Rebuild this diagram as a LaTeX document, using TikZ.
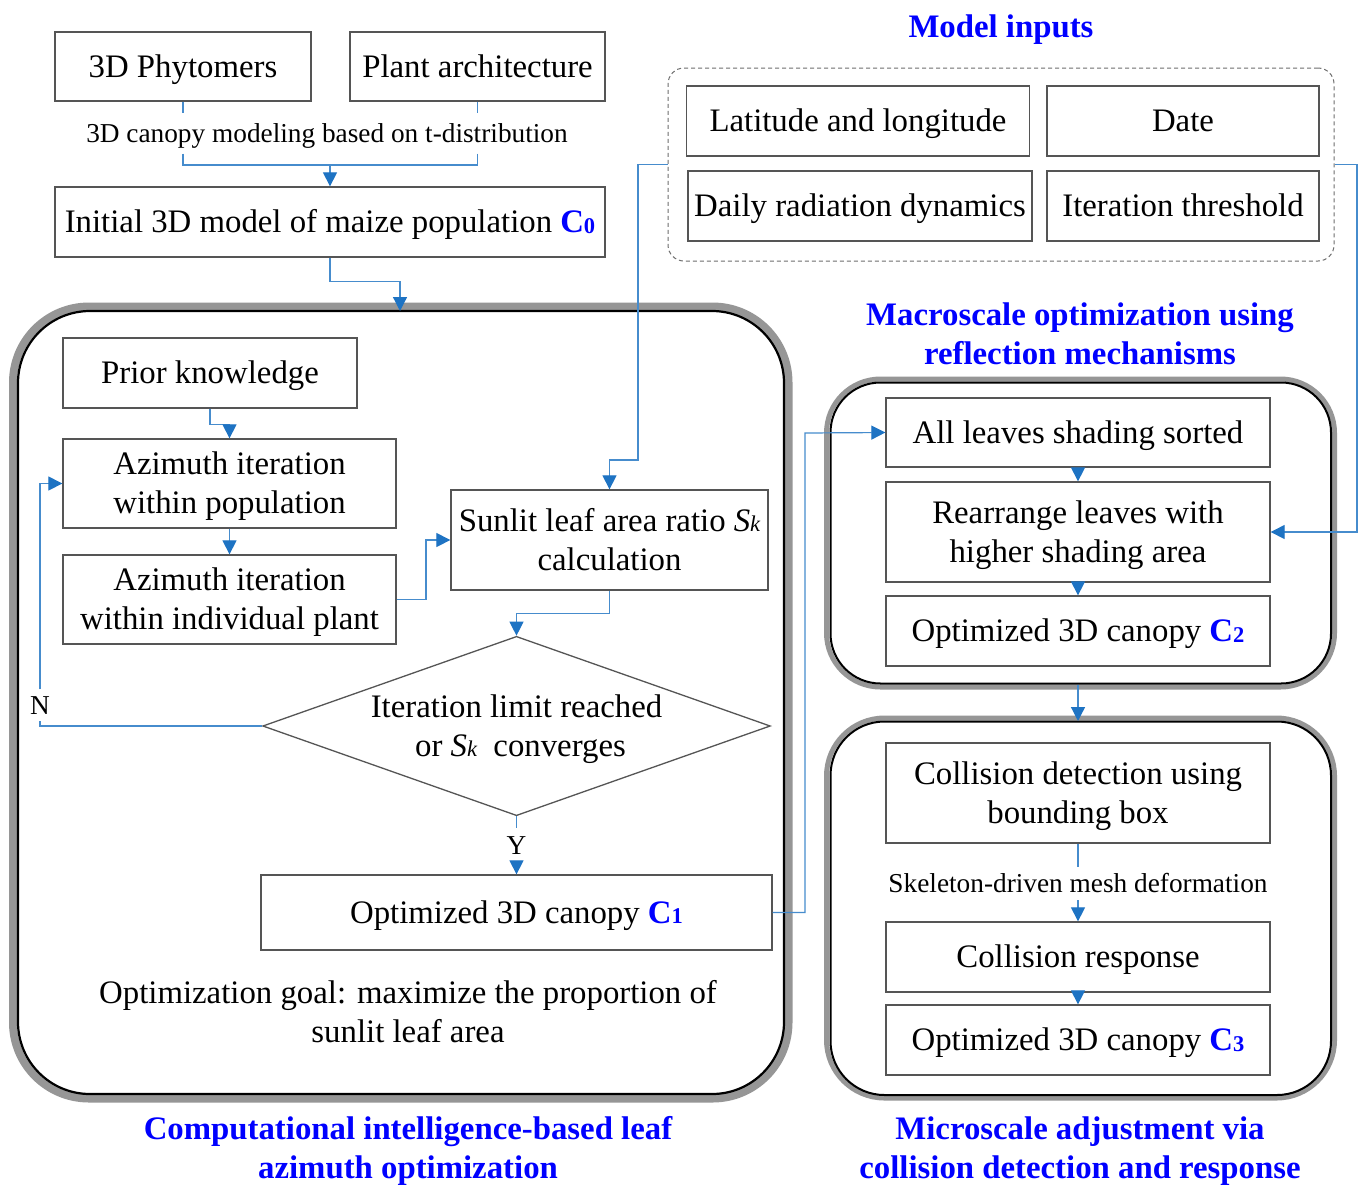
\documentclass[tikz,border=0pt]{standalone}
\usepackage{fontspec}
\setmainfont{Liberation Serif}
\usetikzlibrary{arrows.meta,shapes.geometric}
\definecolor{boxc}{RGB}{85,85,85}
\definecolor{linec}{RGB}{70,140,205}
\definecolor{tipc}{RGB}{30,115,195}
\definecolor{framegray}{RGB}{150,150,150}
\definecolor{dashc}{RGB}{110,110,110}
\definecolor{ttl}{RGB}{0,0,255}
\newcommand{\Csub}[1]{{\color{ttl}\bfseries C\raisebox{-0.5pt}{\fontsize{22.5}{22.5}\selectfont #1}}}
\newcommand{\Sk}{\textit{S}{\fontsize{22.5}{22.5}\selectfont\itshape k}}
\begin{document}
\begin{tikzpicture}[x=1pt,y=-1pt,
 bx/.style={draw=boxc, line width=1.3pt, align=center, inner sep=0pt, font=\fontsize{32.8}{39}\selectfont},
 one/.style={text height=29.5pt, text depth=7.9pt},
 two/.style={text height=68.5pt, text depth=7.9pt},
 conn/.style={draw=linec, line width=1.2pt},
 arr/.style={conn, -{Triangle[width=14pt,length=14pt,color=tipc]}},
 lbl/.style={font=\fontsize{27.3}{32}\selectfont, inner xsep=2pt, text height=23.5pt, text depth=5.5pt},
 ttlf/.style={font=\fontsize{32.8}{39}\selectfont\bfseries, text=ttl, align=center},
 plain/.style={font=\fontsize{32.8}{39}\selectfont, align=center}]
\useasboundingbox[fill=white] (0,0) rectangle (1362,1184);

% frames
\draw[framegray, line width=8pt, rounded corners=76pt] (13,306.5) rectangle (788.5,1098.5);
\draw[black, line width=2.2pt, rounded corners=72pt] (18,311) rectangle (784,1094);
\draw[framegray, line width=5pt, rounded corners=54pt] (826.5,379) rectangle (1334.5,687);
\draw[black, line width=2pt, rounded corners=50pt] (830.5,382.5) rectangle (1331,683.5);
\draw[framegray, line width=5pt, rounded corners=58pt] (826.5,718) rectangle (1334.5,1098);
\draw[black, line width=2pt, rounded corners=54pt] (830.5,721.5) rectangle (1331,1095);

% titles
\node[ttlf, one] (t0) at (1001,27) {Model inputs};
\node[ttlf] (t2) at (1080,334) {Macroscale optimization using\\reflection mechanisms};
\node[ttlf] (t1) at (408,1151) {Computational intelligence-based leaf\\azimuth optimization};
\node[ttlf] (t3) at (1080,1151) {Microscale adjustment via\\collision detection and response};

% top nodes
\node[bx, one, minimum width=256pt, minimum height=69pt] (phy) at (183,66.5) {3D Phytomers};
\node[bx, one, minimum width=255pt, minimum height=69pt] (plant) at (477.5,66.5) {Plant architecture};
\node[bx, one, minimum width=550pt, minimum height=70pt] (init) at (330,222) {Initial 3D model of maize population \Csub{0}};
\node[lbl, inner ysep=5.5pt] (cm) at (327,133.5) {3D canopy modeling based on t-distribution};

% model inputs
\node[draw=dashc, dashed, dash pattern=on 4pt off 3pt, line width=1pt, rounded corners=16pt, minimum width=666pt, minimum height=193pt] (inputs) at (1001,164.5) {};
\node[bx, one, minimum width=343pt, minimum height=70pt] (lat) at (858,121) {Latitude and longitude};
\node[bx, one, minimum width=272pt, minimum height=70pt] (date) at (1183,121) {Date};
\node[bx, one, minimum width=344pt, minimum height=70pt] (daily) at (860,206) {Daily radiation dynamics};
\node[bx, one, minimum width=272pt, minimum height=70pt] (iter) at (1183,206) {Iteration threshold};

% box 1 nodes
\node[bx, one, minimum width=294pt, minimum height=70pt] (prior) at (210,373) {Prior knowledge};
\node[bx, two, minimum width=333pt, minimum height=89pt] (azpop) at (229.5,483.5) {Azimuth iteration\\within population};
\node[bx, two, minimum width=333pt, minimum height=89pt] (azind) at (229.5,599.5) {Azimuth iteration\\within individual plant};
\node[bx, two, minimum width=317pt, minimum height=100pt] (sunlit) at (609.5,540) {Sunlit leaf area ratio \Sk\\calculation};
\node[bx, two, diamond, shape aspect=2.83, minimum width=503pt, minimum height=178pt] (dia) at (516.5,726) {Iteration limit reached\\\hspace*{8pt}or \Sk\ \ converges};
\node[bx, one, minimum width=511pt, minimum height=75pt] (c1) at (516.5,912.5) {Optimized 3D canopy \Csub{1}};
\node[lbl, inner ysep=1pt] (nl) at (40,705) {N};
\node[lbl, inner ysep=2.5pt] (yl) at (516.5,845) {Y};
\node[plain] (goal) at (408,1012) {Optimization goal: maximize the proportion of\\sunlit leaf area};

% box 2 nodes
\node[bx, one, minimum width=384pt, minimum height=69pt] (sort) at (1078,432.5) {All leaves shading sorted};
\node[bx, two, minimum width=384pt, minimum height=100pt] (rearr) at (1078,532) {Rearrange leaves with\\higher shading area};
\node[bx, one, minimum width=384pt, minimum height=70pt] (c2) at (1078,631) {Optimized 3D canopy \Csub{2}};

% box 3 nodes
\node[bx, two, minimum width=384pt, minimum height=100pt] (cd) at (1078,793) {Collision detection using\\bounding box};
\node[lbl, inner ysep=2pt] (skel) at (1078,883.5) {Skeleton-driven mesh deformation};
\node[bx, one, minimum width=384pt, minimum height=70pt] (cr) at (1078,957) {Collision response};
\node[bx, one, minimum width=384pt, minimum height=70pt] (c3) at (1078,1040) {Optimized 3D canopy \Csub{3}};

% coordinates
\coordinate (j0) at (330,165);
\coordinate (b1t) at (400,311);
\coordinate (k1) at (638,460);
\coordinate (k2) at (1357,532);
\coordinate (k3) at (805,433);
\coordinate (k4) at (426,540);
\coordinate (f2b) at (1078,684.5);
\coordinate (f3t) at (1078,721);

% connectors
\draw[conn] (phy.south) -- (phy.south |- cm.north);
\draw[conn] (plant.south) -- (plant.south |- cm.north);
\draw[conn] (phy.south |- cm.south) |- (j0);
\draw[conn] (plant.south |- cm.south) |- (j0);
\draw[arr] (j0) -- (init.north);
\draw[arr] (init.south) -- ++(0,24) -| (b1t);
\draw[arr] (prior.south) -- ++(0,16) -| (azpop.north);
\draw[arr] (azpop.south) -- (azind.north);
\draw[arr] (azind.east) -| (k4) -- (sunlit.west);
\draw[arr] (inputs.west) -| (k1) -| (sunlit.north);
\draw[arr] (sunlit.south) -- ++(0,23) -| (dia.north);
\draw[conn] (dia.west) -| (nl.south);
\draw[arr] (nl.north) |- (azpop.west);
\draw[conn] (dia.south) -- (yl.north);
\draw[arr] (yl.south) -- (c1.north);
\draw[arr] (c1.east) -| (k3) -- (sort.west);
\draw[arr] (inputs.east) -| (k2) -- (rearr.east);
\draw[arr] (sort.south) -- (rearr.north);
\draw[arr] (rearr.south) -- (c2.north);
\draw[arr] (f2b) -- (f3t);
\draw[conn] (cd.south) -- (skel.north);
\draw[arr] (skel.south) -- (cr.north);
\draw[arr] (cr.south) -- (c3.north);
\end{tikzpicture}
\end{document}
